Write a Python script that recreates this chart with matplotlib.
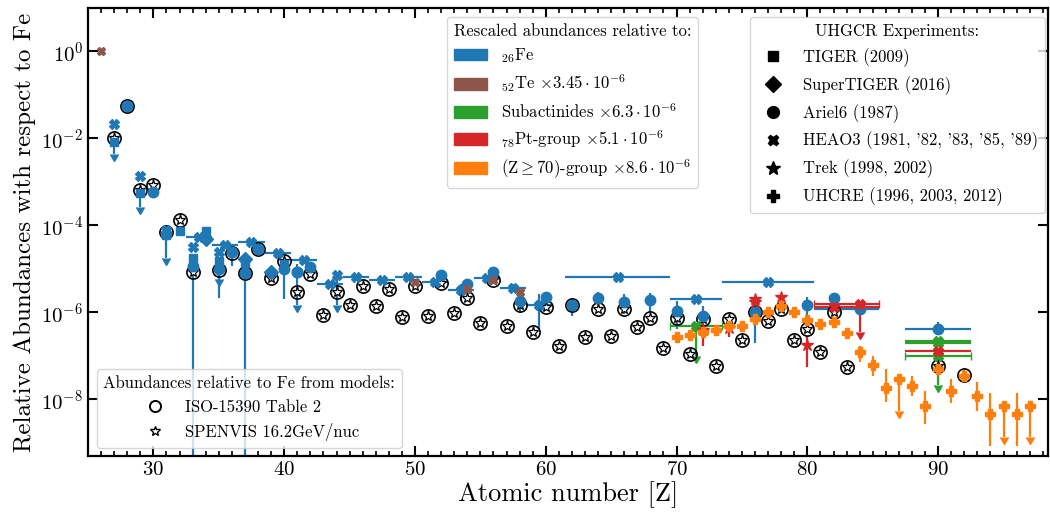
import numpy as np
import matplotlib
matplotlib.use('Agg')
import matplotlib.pyplot as plt
from matplotlib.patches import Patch
from matplotlib.lines import Line2D

plt.rcParams['font.family'] = 'serif'
plt.rcParams['font.serif'] = ['cmr10']
plt.rcParams['mathtext.fontset'] = 'cm'
plt.rcParams['axes.formatter.use_mathtext'] = True

# colours of the rescaled groups
c_fe = '#1f77b4'
c_te = '#8c564b'
c_sub = '#2ca02c'
c_pt = '#d62728'
c_z70 = '#ff7f0e'

# model abundances relative to Fe
iso_z = [27, 28, 29, 30, 31, 32, 33, 35, 36, 37, 38, 39, 40, 41, 42, 43, 44, 45, 46,
         47, 48, 49, 50, 51, 52, 53, 54, 55, 56, 57, 58, 59, 60, 61, 62, 63, 64, 65, 66,
         67, 68, 69, 70, 71, 72, 73, 74, 75, 76, 77, 78, 79, 80, 81, 82, 83, 90, 92]
iso_val = [1.0e-2, 5.5e-2, 6.7e-4, 8.7e-4, 6.9e-5, 1.3e-4, 8.7e-6, 9.3e-6, 2.3e-5,
           8.0e-6, 2.8e-5, 6.3e-6, 1.5e-5, 2.9e-6, 7.5e-6, 8.9e-7, 2.9e-6, 1.45e-6, 4.0e-6,
           1.4e-6, 3.5e-6, 7.7e-7, 4.0e-6, 8.5e-7, 4.7e-6, 9.5e-7, 2.2e-6, 5.6e-7, 5.5e-6,
           4.8e-7, 1.5e-6, 3.6e-7, 1.3e-6, 1.65e-7, 1.5e-6, 2.7e-7, 1.2e-6, 2.8e-7, 1.2e-6,
           4.6e-7, 7.3e-7, 1.5e-7, 7.3e-7, 1.1e-7, 6.9e-7, 6.0e-8, 6.9e-7, 2.3e-7, 1.0e-6,
           6.3e-7, 1.2e-6, 2.3e-7, 4.1e-7, 1.2e-7, 1.05e-6, 5.7e-8, 6.0e-8, 3.6e-8]
spenvis_z = [27, 29, 30, 32, 33, 37, 38, 39, 40, 41, 42, 43, 44, 45, 46, 47, 48, 49, 50,
             51, 52, 53, 54, 55, 56, 57, 58, 59, 60, 61, 62, 63, 64, 65, 66, 67, 68, 69,
             70, 71, 72, 73, 74, 75, 76, 77, 78, 79, 80, 81, 82, 83, 90]
spenvis_val = [1.0e-2, 6.7e-4, 8.7e-4, 1.3e-4, 8.7e-6, 8.0e-6, 2.8e-5, 6.3e-6, 1.5e-5,
               2.9e-6, 7.5e-6, 8.9e-7, 2.9e-6, 1.45e-6, 4.0e-6, 1.4e-6, 3.5e-6, 7.7e-7,
               4.0e-6, 8.5e-7, 4.7e-6, 9.5e-7, 2.2e-6, 5.6e-7, 5.5e-6, 4.8e-7, 1.5e-6,
               3.6e-7, 1.3e-6, 1.65e-7, 1.5e-6, 2.7e-7, 1.2e-6, 2.8e-7, 1.2e-6, 4.6e-7,
               7.3e-7, 1.5e-7, 7.3e-7, 1.1e-7, 6.9e-7, 6.0e-8, 6.9e-7, 2.3e-7, 1.0e-6,
               6.3e-7, 1.2e-6, 2.3e-7, 4.1e-7, 1.2e-7, 1.05e-6, 5.7e-8, 6.0e-8]

# measurements: (Z, value, lower end, upper end); None = no bar
tiger_fe = [(32, 7.3e-5, None, None), (33, 1.8e-5, None, None), (34, 7.3e-5, None, None),
            (37, 1.4e-5, None, None), (40, 1.3e-5, None, None)]
# upper limits: (Z, value, arrow end)
tiger_fe_ul = [(27, 8.3e-3, 4.3e-3), (29, 5.7e-4, 2.7e-4), (31, 6.0e-5, 1.8e-5),
               (35, 1.5e-5, 6.0e-6)]
supertiger_fe = [(34, 4.8e-5, None, None), (37, 1.7e-5, None, None), (39, 8.7e-6, None, None)]
ariel_fe = [(28, 5.5e-2, None, None), (30, 6.0e-4, None, None), (31, 6.3e-5, None, None),
            (33, 1.15e-5, 1e-12, None), (35, 9.8e-6, 2.2e-6, None), (36, 2.4e-5, 1.15e-5, None),
            (37, 8.0e-6, 1e-12, 1.7e-5), (38, 2.8e-5, None, None), (40, 1.0e-5, 2.0e-6, None),
            (41, 8.3e-6, None, 1.3e-5), (42, 1.1e-5, 8.0e-6, 1.4e-5), (52, 7.4e-6, None, None),
            (54, 4.4e-6, None, None), (56, 8.3e-6, None, None), (58, 1.8e-6, 9.5e-7, None),
            (60, 2.3e-6, 1.8e-6, 2.8e-6), (62, 1.5e-6, 8.5e-7, 2.2e-6),
            (64, 2.2e-6, 1.5e-6, 3.0e-6), (66, 1.7e-6, 9.0e-7, 2.6e-6),
            (68, 1.9e-6, 1.0e-6, 2.8e-6), (70, 1.1e-6, 4.1e-7, 1.8e-6),
            (72, 8.1e-7, 4.8e-7, 1.4e-6), (76, 1.0e-6, 2.0e-7, None),
            (80, 1.5e-6, 7.7e-7, 2.3e-6), (82, 2.1e-6, None, 2.6e-6)]
ariel_fe_ul = [(41, 8.3e-6, 1.5e-6)]
# charge bins: (Z, value, dZ left, dZ right, lower end, upper end)
ariel_fe_bins = [(84, 1.2e-6, 3.5, 1.5, None, None), (90, 4.1e-7, 2.5, 2.5, None, 5.9e-7)]
heao_fe = [(27, 2.1e-2, None, None), (29, 1.35e-3, None, None), (31, 8.0e-5, None, None),
           (33, 3.2e-5, None, None), (35, 2.5e-5, None, None)]
heao_fe_ul = [(44, 7.4e-6, 1.5e-6)]
heao_fe_bins = [(33.5, 5.3e-5, 1, 1, None, None), (35.5, 3.5e-5, 1, 1, None, None),
                (37.5, 4.1e-5, 1, 1, None, None), (39.5, 2.3e-5, 1, 1, None, None),
                (41.5, 1.6e-5, 1, 1, None, None), (43.5, 4.6e-6, 1, 1, None, None),
                (45.5, 6.7e-6, 1, 1, None, None), (47.5, 5.5e-6, 1, 1, None, None),
                (49.5, 6.7e-6, 1, 1, None, None), (51.5, 5.1e-6, 1, 1, None, None),
                (53.5, 3.2e-6, 1, 1, 1.8e-6, 4.4e-6), (55.5, 6.3e-6, 1, 1, None, None),
                (57.5, 3.7e-6, 1, 1, 3.0e-6, 4.5e-6), (59.5, 1.5e-6, 1, 1, 4.1e-7, 2.6e-6),
                (65.5, 6.7e-6, 4, 4, None, None), (71.5, 2.0e-6, 2, 2, None, None),
                (77.0, 5.1e-6, 3.5, 3.5, None, None)]

heao_te = [(26, 1.0, None, None), (50, 5.1e-6, None, None), (54, 3.5e-6, None, None),
           (56, 5.7e-6, None, None), (58, 2.9e-6, None, None)]

trek_pt = [(72, 4.0e-7, 1.65e-7, 6.3e-7), (74, 4.5e-7, 2.7e-7, 6.9e-7), (76, 2.0e-6, None, None),
           (76, 1.7e-6, None, None), (78, 2.3e-6, 2.0e-6, 2.6e-6), (80, 1.8e-7, 5.7e-8, 2.8e-7)]
heao_pt_bins = [(82, 1.3e-6, 1.5, 3.5, None, None), (90, 1.3e-7, 2.5, 2.5, None, None)]
heao_pt_bins_ul = [(84, 1.6e-6, 3.5, 1.5, 3.5e-7)]

heao_sub_bins = [(90, 2.2e-7, 2.5, 2.5, None, None), (90, 1.95e-7, 2.5, 2.5, None, None)]
heao_sub_bins_ul = [(71.5, 4.8e-7, 2, 2, 1.0e-7), (90, 1.0e-7, 2.5, 2.5, 2.2e-8)]

uhcre_z70 = [(70, 2.7e-7, None, None), (71, 2.95e-7, None, None), (72, 3.6e-7, None, None),
             (73, 3.9e-7, None, None), (74, 4.8e-7, None, None), (75, 5.0e-7, None, None),
             (76, 6.9e-7, None, None), (77, 1.0e-6, None, None), (78, 1.4e-6, None, None),
             (79, 1.05e-6, None, None), (80, 6.6e-7, None, None), (81, 5.3e-7, None, None),
             (82, 5.9e-7, None, None), (83, 3.3e-7, None, None), (84, 1.2e-7, 7.4e-8, 1.65e-7),
             (85, 6.3e-8, 3.4e-8, 9.8e-8), (86, 1.8e-8, 8.9e-9, 5.1e-8),
             (88, 2.0e-8, 1.2e-8, 3.4e-8), (89, 6.9e-9, 2.7e-9, 1.6e-8),
             (90, 4.9e-8, 4.0e-8, 7.9e-8), (91, 1.6e-8, 8.1e-9, 2.9e-8),
             (92, 3.5e-8, 2.6e-8, 4.9e-8), (93, 1.2e-8, 5.3e-9, 2.5e-8),
             (94, 4.5e-9, 8.7e-10, 1.4e-8), (96, 4.5e-9, 8.7e-10, 1.4e-8)]
uhcre_z70_ul = [(87, 2.9e-8, 5.3e-9), (95, 6.9e-9, 1.4e-9), (97, 6.9e-9, 1.4e-9)]

ms_of = {'s': 6, 'D': 7, 'o': 7.5, 'X': 6.5, '*': 9, 'P': 7.5}


def draw_pts(ax, pts, color, marker, ms=None):
    if not pts:
        return
    z = np.array([p[0] for p in pts], float)
    y = np.array([p[1] for p in pts], float)
    lo = np.array([p[1] if p[2] is None else p[2] for p in pts], float)
    hi = np.array([p[1] if p[3] is None else p[3] for p in pts], float)
    ax.errorbar(z, y, yerr=[y - lo, hi - y], fmt=marker, color=color,
                ms=ms or ms_of[marker], elinewidth=1.6, capsize=0, zorder=2)


def draw_ul(ax, pts, color, marker):
    z = np.array([p[0] for p in pts], float)
    y = np.array([p[1] for p in pts], float)
    end = np.array([p[2] for p in pts], float)
    ax.errorbar(z, y, yerr=[y - end, np.zeros_like(y)], uplims=True, fmt=marker, color=color,
                ms=ms_of[marker], elinewidth=1.6, capsize=3.2, zorder=2)


def draw_bins(ax, pts, color, marker, limit=False):
    z = np.array([p[0] for p in pts], float)
    y = np.array([p[1] for p in pts], float)
    dzl = np.array([p[2] for p in pts], float)
    dzh = np.array([p[3] for p in pts], float)
    if limit:
        end = np.array([p[4] for p in pts], float)
        ax.errorbar(z, y, xerr=[dzl, dzh], yerr=[y - end, np.zeros_like(y)], uplims=True,
                    fmt=marker, color=color, ms=ms_of[marker], elinewidth=1.6, capsize=3.2,
                    zorder=2)
        return
    lo = np.array([p[1] if p[4] is None else p[4] for p in pts], float)
    hi = np.array([p[1] if p[5] is None else p[5] for p in pts], float)
    ax.errorbar(z, y, xerr=[dzl, dzh], yerr=[y - lo, hi - y], fmt=marker, color=color,
                ms=ms_of[marker], elinewidth=1.6, capsize=0, zorder=2)


fig = plt.figure(figsize=(10.5, 5.15), dpi=100)
ax = fig.add_axes([88 / 1050, 59 / 515, 960 / 1050, 448 / 515])

# Fe-relative measurements
draw_bins(ax, heao_fe_bins, c_fe, 'X')
draw_pts(ax, heao_fe, c_fe, 'X')
draw_ul(ax, heao_fe_ul, c_fe, 'X')
draw_pts(ax, tiger_fe, c_fe, 's')
draw_ul(ax, tiger_fe_ul, c_fe, 's')
draw_pts(ax, supertiger_fe, c_fe, 'D')
draw_pts(ax, ariel_fe, c_fe, 'o')
draw_ul(ax, ariel_fe_ul, c_fe, 'o')
draw_bins(ax, ariel_fe_bins, c_fe, 'o')

# rescaled groups
draw_pts(ax, heao_te, c_te, 'X', ms=6)
draw_bins(ax, heao_sub_bins, c_sub, 'X')
draw_bins(ax, heao_sub_bins_ul, c_sub, 'X', limit=True)
draw_pts(ax, trek_pt, c_pt, '*')
draw_bins(ax, heao_pt_bins, c_pt, 'X')
draw_bins(ax, heao_pt_bins_ul, c_pt, 'X', limit=True)
draw_pts(ax, uhcre_z70, c_z70, 'P')
draw_ul(ax, uhcre_z70_ul, c_z70, 'P')

# models
ax.plot(iso_z, iso_val, 'o', ms=9.5, mfc='none', mec='black', mew=1.2, zorder=2.05)
ax.plot(spenvis_z, spenvis_val, '*', ms=8, mfc='white', mec='black', mew=0.9, zorder=2.06)

ax.set_yscale('log')
ax.set_xlim(25, 98.4)
ax.set_ylim(5e-10, 10)
ax.set_yticks([1e0, 1e-2, 1e-4, 1e-6, 1e-8])
ax.yaxis.set_minor_locator(matplotlib.ticker.NullLocator())
ax.xaxis.set_major_locator(matplotlib.ticker.MultipleLocator(10))
ax.xaxis.set_minor_locator(matplotlib.ticker.MultipleLocator(1))
ax.tick_params(which='both', direction='in', top=True, right=True, labelsize=15)
ax.tick_params(which='major', length=7, width=1.5)
ax.tick_params(which='minor', length=3.5, width=1.2)
for sp in ax.spines.values():
    sp.set_linewidth(1.6)

ax.set_xlabel('Atomic number [Z]', fontsize=19, labelpad=2)
ax.set_ylabel('Relative Abundances with respect to Fe', fontsize=18, labelpad=4)

# legends
group_handles = [Patch(color=c_fe), Patch(color=c_te), Patch(color=c_sub),
                 Patch(color=c_pt), Patch(color=c_z70)]
group_labels = [r'$_{26}$Fe', r'$_{52}$Te $\times 3.45\cdot 10^{-6}$',
                r'Subactinides $\times 6.3\cdot 10^{-6}$',
                r'$_{78}$Pt-group $\times 5.1\cdot 10^{-6}$',
                r'(Z$\geq$70)-group $\times 8.6\cdot 10^{-6}$']
leg1 = ax.legend(group_handles, group_labels, title='Rescaled abundances relative to:',
                 loc='upper left', bbox_to_anchor=(0.374, 0.98), borderaxespad=0,
                 fontsize=12, title_fontsize=12, labelspacing=0.45)
ax.add_artist(leg1)

exp_markers = ['s', 'D', 'o', 'X', '*', 'P']
exp_labels = ['TIGER (2009)', 'SuperTIGER (2016)', 'Ariel6 (1987)',
              "HEAO3 (1981, '82, '83, '85, '89)", 'Trek (1998, 2002)',
              'UHCRE (1996, 2003, 2012)']
exp_handles = [Line2D([], [], ls='none', marker=m, color='black', ms=ms_of[m] + 1)
               for m in exp_markers]
leg2 = ax.legend(exp_handles, exp_labels, title='UHGCR Experiments:', loc='upper right',
                 bbox_to_anchor=(0.997, 0.98), borderaxespad=0, fontsize=12,
                 title_fontsize=12, labelspacing=0.55)
ax.add_artist(leg2)

model_handles = [Line2D([], [], ls='none', marker='o', ms=8, mfc='none', mec='black', mew=1.4),
                 Line2D([], [], ls='none', marker='*', ms=7, mfc='white', mec='black', mew=1.0)]
ax.legend(model_handles, ['ISO-15390 Table 2', 'SPENVIS 16.2GeV/nuc'],
          title='Abundances relative to Fe from models:', loc='lower left',
          bbox_to_anchor=(0.009, 0.018), borderaxespad=0, fontsize=12, title_fontsize=12,
          labelspacing=0.5)

fig.savefig('out.png', dpi=100)
